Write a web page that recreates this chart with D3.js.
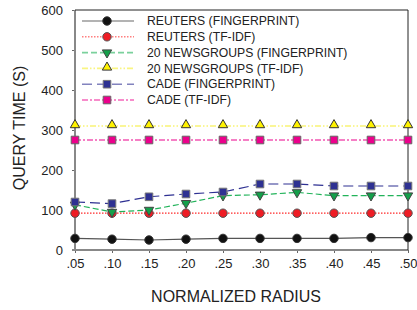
<!DOCTYPE html>
<html>
<head>
<meta charset="utf-8">
<script src="https://cdn.jsdelivr.net/npm/d3@7"></script>
<style>
	body { margin: 0; background: #fff; }
	text { font-family: "Liberation Sans", Arial, sans-serif; fill: #222; }
</style>
</head>
<body>
<svg id="chart" width="417" height="310"></svg>
<script>
// data
const radii = [0.05, 0.10, 0.15, 0.20, 0.25, 0.30, 0.35, 0.40, 0.45, 0.50];
const radiusLabels = [".05", ".10", ".15", ".20", ".25", ".30", ".35", ".40", ".45", ".50"];
const yTicks = [0, 100, 200, 300, 400, 500, 600];

const reutersFingerprint = [29, 27, 25, 27, 29, 29, 29, 29, 31, 31];
const reutersTfidf = [92, 92, 92, 92, 92, 92, 92, 92, 92, 92];
const newsFingerprint = [113, 95, 100, 117, 136, 138, 144, 136, 136, 136];
const newsTfidf = [310, 310, 310, 310, 310, 310, 310, 310, 310, 310];
const cadeFingerprint = [120, 116, 133, 140, 145, 165, 165, 160, 160, 160];
const cadeTfidf = [275, 275, 275, 275, 275, 275, 275, 275, 275, 275];

const seriesNames = [
	"REUTERS (FINGERPRINT)", "REUTERS (TF-IDF)",
	"20 NEWSGROUPS (FINGERPRINT)", "20 NEWSGROUPS (TF-IDF)",
	"CADE (FINGERPRINT)", "CADE (TF-IDF)"
];

/**
 * Series styles
 */
let series = [
	{ name: seriesNames[0], values: reutersFingerprint, line: "#555", dash: null, fill: "#111", stroke: "#333", shape: "circle" },
	{ name: seriesNames[1], values: reutersTfidf, line: "#ff2a2a", dash: "1.5,1.5", fill: "#ee1c24", stroke: "#555", shape: "circle" },
	{ name: seriesNames[2], values: newsFingerprint, line: "#22b35a", dash: "6,3", fill: "#13a04a", stroke: "#444", shape: "down" },
	{ name: seriesNames[3], values: newsTfidf, line: "#f5ee30", dash: "6,2,1.5,2,1.5,2", fill: "#fff200", stroke: "#333", shape: "up" },
	{ name: seriesNames[4], values: cadeFingerprint, line: "#2e3092", dash: "10,5", fill: "#2e3192", stroke: "#777", shape: "square" },
	{ name: seriesNames[5], values: cadeTfidf, line: "#ec008c", dash: "6,2,2,2", fill: "#ec008c", stroke: "#666", shape: "square" }
];

let margin = { top: 10, right: 9, bottom: 60, left: 75 };
let width = 417 - margin.left - margin.right;
let height = 310 - margin.top - margin.bottom;

let svg = d3.select("#chart");
let g = svg.append("g").attr("transform", `translate(${margin.left},${margin.top})`);

let x = d3.scaleLinear().domain([0.05, 0.50]).range([0, width]);
let y = d3.scaleLinear().domain([0, 600]).range([height, 0]);

// marker symbols
function symbolPath(shape) {
	if (shape === "circle") return d3.symbol().type(d3.symbolCircle).size(56)();
	if (shape === "square") return d3.symbol().type(d3.symbolSquare).size(58)();
	return d3.symbol().type(d3.symbolTriangle).size(38)();
}
function symbolTransform(shape, px, py) {
	if (shape === "down") return `translate(${px},${py}) rotate(180)`;
	if (shape === "up") return `translate(${px},${py - 1})`;
	return `translate(${px},${py})`;
}

// axes
let xAxis = g.append("g")
	.attr("transform", `translate(0,${height})`)
	.call(d3.axisBottom(x).tickValues(radii).tickFormat((d, i) => radiusLabels[i]).tickSize(3).tickSizeOuter(0).tickPadding(6));
xAxis.select(".domain").remove();
xAxis.selectAll(".tick line").attr("stroke", "#666");
xAxis.selectAll("text").style("font-size", "13px");

let yAxis = g.append("g")
	.call(d3.axisLeft(y).tickValues(yTicks).tickSize(3).tickSizeOuter(0).tickPadding(9));
yAxis.select(".domain").remove();
yAxis.selectAll(".tick line").attr("stroke", "#666");
yAxis.selectAll("text").style("font-size", "13px");

// frame
g.append("line").attr("x1", -3).attr("x2", width).attr("y1", height).attr("y2", height)
	.attr("stroke", "#888").attr("stroke-width", 2);
g.append("line").attr("x1", 0).attr("x2", 0).attr("y1", 0).attr("y2", height)
	.attr("stroke", "#888").attr("stroke-width", 2);
g.append("line").attr("x1", 0).attr("x2", width).attr("y1", 0).attr("y2", 0)
	.attr("stroke", "#222").attr("stroke-width", 1);
g.append("line").attr("x1", width).attr("x2", width).attr("y1", 0).attr("y2", height)
	.attr("stroke", "#222").attr("stroke-width", 1);

// lines and markers
let line = d3.line().x((d, i) => x(radii[i])).y(d => y(d));

series.forEach(function(s) {
	let sg = g.append("g").attr("class", "series");
	sg.append("path")
		.attr("d", line(s.values))
		.attr("fill", "none")
		.attr("stroke", s.line)
		.attr("stroke-width", 1.2)
		.attr("stroke-dasharray", s.dash);
	sg.selectAll("path.marker")
		.data(s.values)
		.enter()
		.append("path")
		.attr("class", "marker")
		.attr("d", symbolPath(s.shape))
		.attr("transform", (d, i) => symbolTransform(s.shape, x(radii[i]), y(d)))
		.attr("fill", s.fill)
		.attr("stroke", s.stroke)
		.attr("stroke-width", 1);
});

// legend
let legend = g.append("g").attr("transform", "translate(7,11)");
series.forEach(function(s, i) {
	let row = legend.append("g").attr("transform", `translate(0,${i * 15.8})`);
	row.append("line")
		.attr("x1", 0).attr("x2", 52).attr("y1", 0).attr("y2", 0)
		.attr("stroke", s.line)
		.attr("stroke-opacity", 0.6)
		.attr("stroke-width", 1.6)
		.attr("stroke-dasharray", s.dash);
	row.append("path")
		.attr("d", symbolPath(s.shape))
		.attr("transform", symbolTransform(s.shape, 25, 0))
		.attr("fill", s.fill)
		.attr("stroke", s.stroke)
		.attr("stroke-width", 1);
	row.append("text")
		.attr("x", 65)
		.attr("y", 0)
		.attr("dy", "0.35em")
		.style("font-size", "12.2px")
		.text(s.name);
});

// axis titles
svg.append("text")
	.attr("x", 236)
	.attr("y", 302)
	.attr("text-anchor", "middle")
	.style("font-size", "16px")
	.text("NORMALIZED RADIUS");

svg.append("text")
	.attr("transform", "translate(25,128) rotate(-90)")
	.attr("text-anchor", "middle")
	.style("font-size", "16px")
	.text("QUERY TIME (S)");
</script>
</body>
</html>
